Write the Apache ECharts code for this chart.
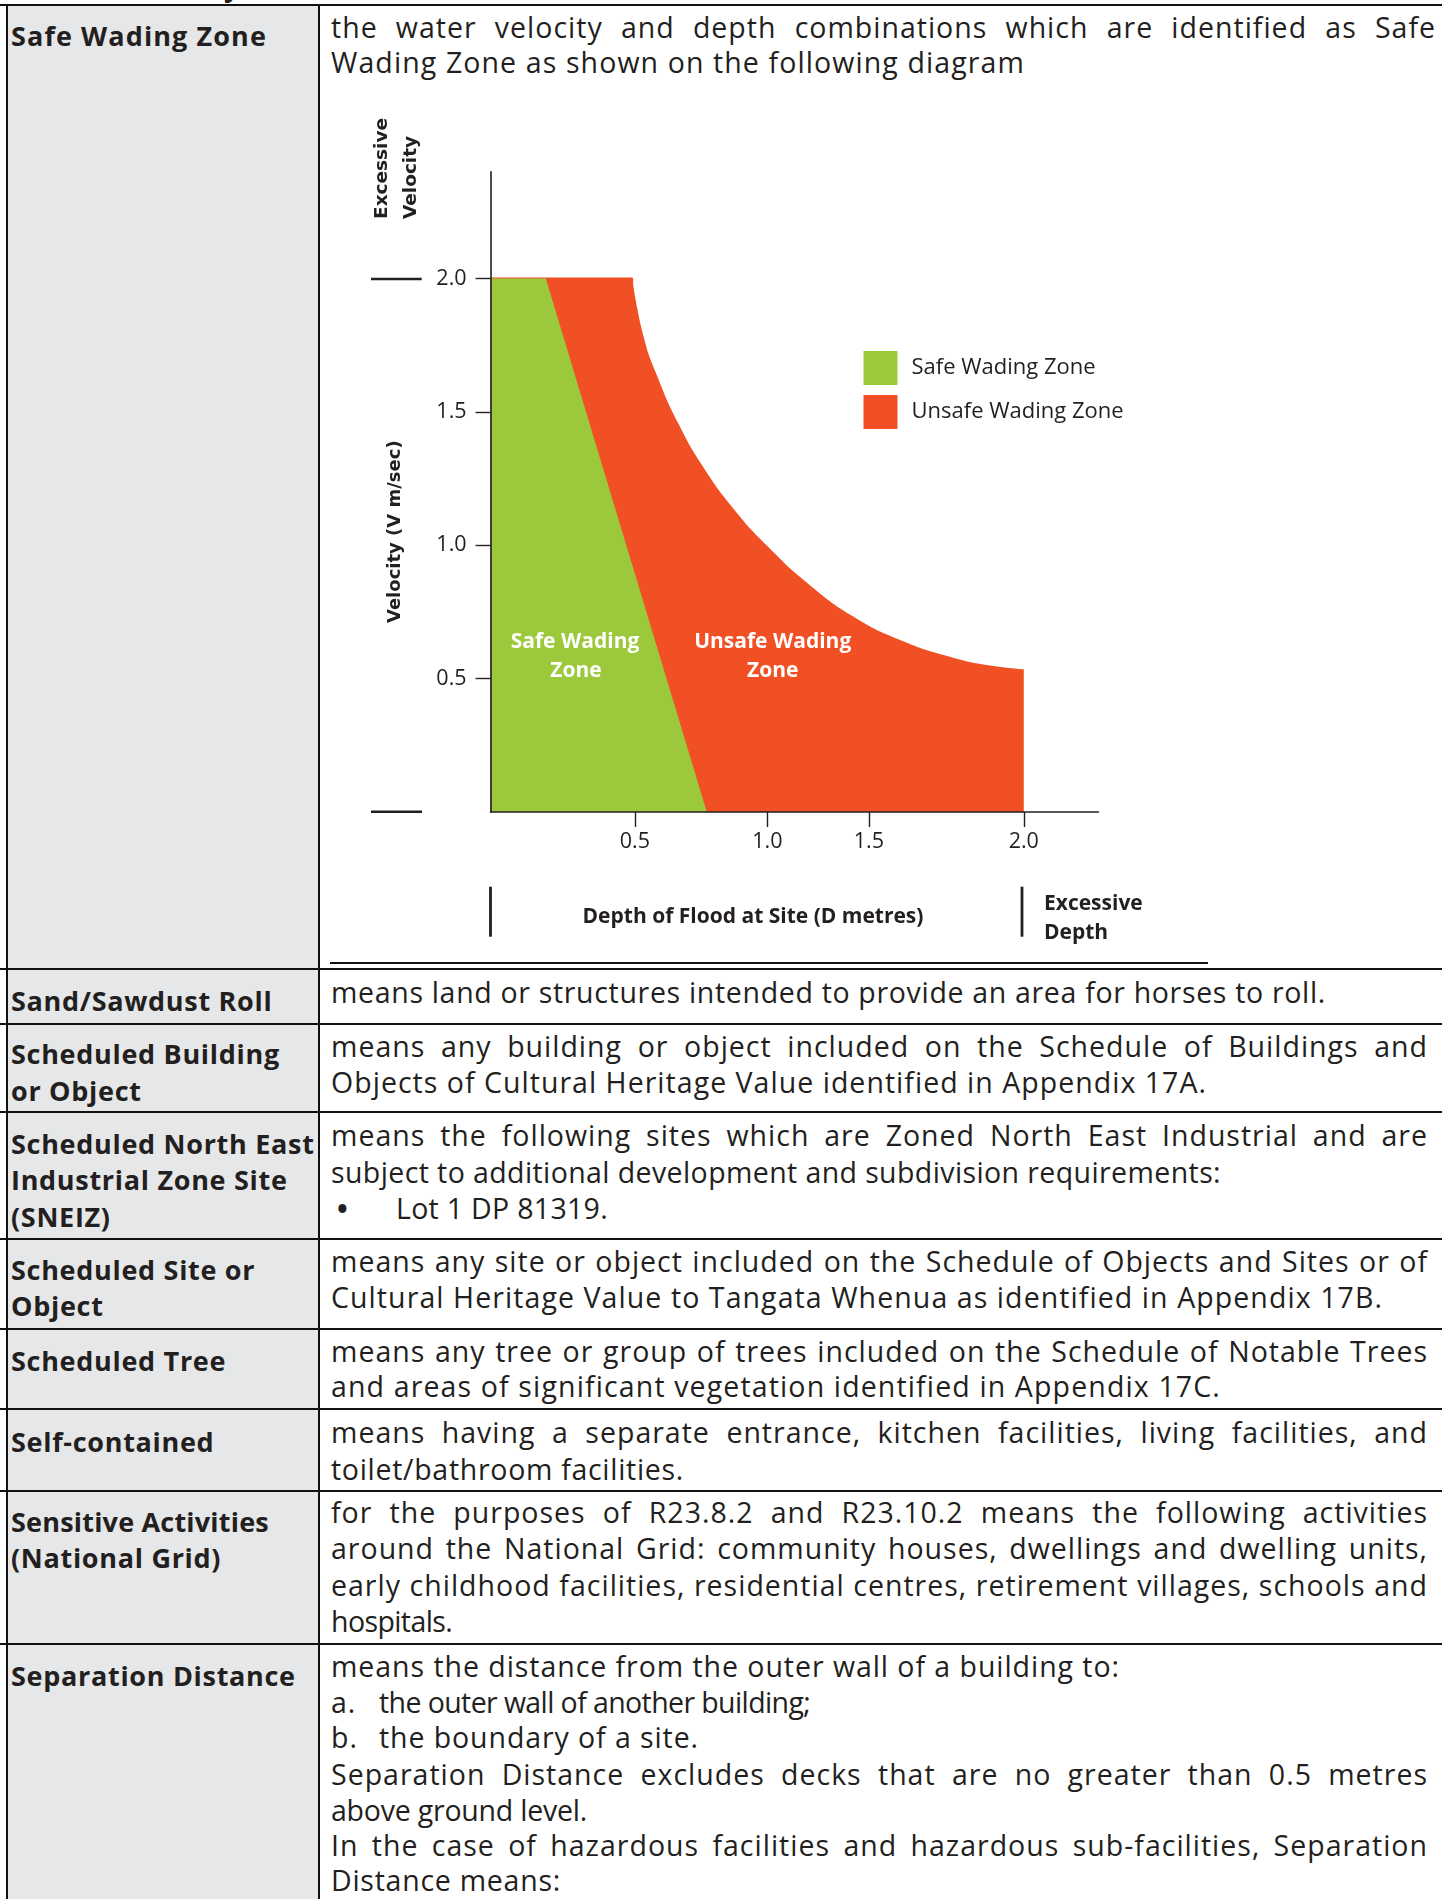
<!DOCTYPE html>
<html><head><meta charset="utf-8">
<script src="https://cdn.jsdelivr.net/npm/echarts@6/dist/echarts.min.js"></script>
<style>
html,body{margin:0;padding:0;background:#fff;}
body{width:1442px;height:1899px;position:relative;overflow:hidden;font-family:"Open Sans",sans-serif;color:#231f20;}
.hl{position:absolute;left:0;width:1442px;height:2.2px;background:#111;}
.vl{position:absolute;top:4px;width:2px;height:1895px;background:#111;}
.grey{position:absolute;left:8px;top:6px;width:310px;height:1893px;background:#e6e7e8;}
.t{position:absolute;left:331px;font-size:28.5px;letter-spacing:1.0px;line-height:36px;height:36px;white-space:nowrap;}
.lb{position:absolute;left:11px;font-weight:700;font-size:27px;letter-spacing:0.7px;line-height:36px;white-space:nowrap;}
#chart{position:absolute;left:330px;top:90px;width:900px;height:870px;}
</style>
</head><body>
<div class="grey"></div>
<div style="position:absolute;left:224px;top:0;width:30px;height:4px;overflow:hidden;"><div style="position:absolute;top:-31px;left:0;font-size:27px;line-height:36px;font-weight:700;">y</div></div>
<div class="hl" style="top:4px"></div>
<div class="vl" style="left:6px"></div>
<div class="vl" style="left:318px"></div>
<div class="hl" style="top:968px"></div>
<div class="hl" style="top:1022.5px"></div>
<div class="hl" style="top:1111px"></div>
<div class="hl" style="top:1238px"></div>
<div class="hl" style="top:1327.5px"></div>
<div class="hl" style="top:1407.5px"></div>
<div class="hl" style="top:1490px"></div>
<div class="hl" style="top:1642.5px"></div>
<div style="position:absolute;left:330px;top:961.5px;width:878px;height:2.5px;background:#111;"></div>

<!-- labels -->
<div class="lb" style="top:17.5px;letter-spacing:1.1px">Safe Wading Zone</div>
<div class="lb" style="top:983px">Sand/Sawdust Roll</div>
<div class="lb" style="top:1036px">Scheduled Building</div>
<div class="lb" style="top:1072.5px">or Object</div>
<div class="lb" style="top:1125.5px">Scheduled North East</div>
<div class="lb" style="top:1162px">Industrial Zone Site</div>
<div class="lb" style="top:1198.5px">(SNEIZ)</div>
<div class="lb" style="top:1251.5px">Scheduled Site or</div>
<div class="lb" style="top:1288px">Object</div>
<div class="lb" style="top:1342.5px">Scheduled Tree</div>
<div class="lb" style="top:1423.5px">Self-contained</div>
<div class="lb" style="top:1503.5px;letter-spacing:0.2px">Sensitive Activities</div>
<div class="lb" style="top:1540px">(National Grid)</div>
<div class="lb" style="top:1657.5px">Separation Distance</div>

<!-- definitions -->
<div class="t j" data-w="1105" style="top:9px">the water velocity and depth combinations which are identified as Safe</div>
<div class="t f" data-w="694" style="top:44px">Wading Zone as shown on the following diagram</div>

<div class="t f" data-w="995" style="top:974px">means land or structures intended to provide an area for horses to roll.</div>

<div class="t j" style="top:1027.5px">means any building or object included on the Schedule of Buildings and</div>
<div class="t f" data-w="876" style="top:1064px">Objects of Cultural Heritage Value identified in Appendix 17A.</div>

<div class="t j" style="top:1117px">means the following sites which are Zoned North East Industrial and are</div>
<div class="t f" data-w="890" style="top:1153.5px">subject to additional development and subdivision requirements:</div>
<div class="t" style="top:1190px;left:337px;font-weight:700">•</div>
<div class="t f" data-w="212" style="top:1190px;left:396px">Lot 1 DP 81319.</div>

<div class="t j" style="top:1243px">means any site or object included on the Schedule of Objects and Sites or of</div>
<div class="t f" data-w="1052" style="top:1278.5px">Cultural Heritage Value to Tangata Whenua as identified in Appendix 17B.</div>

<div class="t j" style="top:1333px">means any tree or group of trees included on the Schedule of Notable Trees</div>
<div class="t f" data-w="890" style="top:1368px">and areas of significant vegetation identified in Appendix 17C.</div>

<div class="t j" style="top:1414px">means having a separate entrance, kitchen facilities, living facilities, and</div>
<div class="t f" data-w="353" style="top:1450.5px">toilet/bathroom facilities.</div>

<div class="t j" style="top:1494px">for the purposes of R23.8.2 and R23.10.2 means the following activities</div>
<div class="t j" style="top:1530px">around the National Grid: community houses, dwellings and dwelling units,</div>
<div class="t j" style="top:1566.5px">early childhood facilities, residential centres, retirement villages, schools and</div>
<div class="t f" data-w="105" style="top:1603px">hospitals.</div>

<div class="t f" data-w="789" style="top:1647.5px">means the distance from the outer wall of a building to:</div>
<div class="t" style="top:1684px">a.</div>
<div class="t f" data-w="409" style="top:1684px;left:379px">the outer wall of another building;</div>
<div class="t" style="top:1719px">b.</div>
<div class="t f" data-w="320" style="top:1719px;left:379px">the boundary of a site.</div>
<div class="t j" style="top:1755.5px">Separation Distance excludes decks that are no greater than 0.5 metres</div>
<div class="t f" data-w="256" style="top:1792px">above ground level.</div>
<div class="t j" style="top:1827px">In the case of hazardous facilities and hazardous sub-facilities, Separation</div>
<div class="t f" data-w="230" style="top:1862px">Distance means:</div>

<div id="chart"></div>

<script>
// ---- chart data ----
const depthTickValues = [0.541, 1.038, 1.419, 2.0];
const depthTickLabels = ['0.5', '1.0', '1.5', '2.0'];
const velocityTickValues = [0.5, 1.0, 1.5, 2.0];
const seriesNames = ['Safe Wading Zone', 'Unsafe Wading Zone'];
// [depth, velocity]
const safeZone = [[0, 2.0], [0.207, 2.0], [0.811, 0]];
const unsafeFlat = [[0, 2.0], [0.531, 2.0], [0.531, 0]];
const unsafeCurve = [[0.531, 2.0], [0.574, 1.782], [0.626, 1.632], [0.704, 1.457], [0.797, 1.294],
  [0.915, 1.132], [1.040, 0.995], [1.190, 0.857], [1.362, 0.732], [1.536, 0.645], [1.723, 0.582],
  [1.861, 0.551], [2.0, 0.535]];

const GREEN = '#9cc93b', RED = '#f05024', DARK = '#231f20';

function layoutLines() {
  document.querySelectorAll('.t').forEach(el => {
    const W = parseFloat(el.dataset.w || 1097);
    const span = document.createElement('span');
    span.textContent = el.textContent;
    el.textContent = '';
    el.appendChild(span);
    const w = span.getBoundingClientRect().width;
    if (el.classList.contains('j')) {
      const n = (span.textContent.match(/ /g) || []).length;
      if (n) span.style.wordSpacing = ((W - w) / n) + 'px';
    } else if (el.classList.contains('f')) {
      const n = span.textContent.length;
      const ls = parseFloat(getComputedStyle(span).letterSpacing) || 0;
      let adj = ls + (W - w) / n;
      adj = Math.max(-0.6, Math.min(2.2, adj));
      span.style.letterSpacing = adj + 'px';
    }
  });
}

function drawChart() {
  const chart = echarts.init(document.getElementById('chart'), null, { renderer: 'canvas' });
  const txt = (x, y, text, font, align, rot) => ({
    type: 'text', x: x, y: y, rotation: rot || 0, silent: true,
    style: { text: text, font: font, fill: DARK, textAlign: align || 'center', textVerticalAlign: 'middle', align: align || 'center', verticalAlign: 'middle' }
  });
  const wtxt = (x, y, text) => ({
    type: 'text', x: x, y: y, silent: true, z: 10,
    style: { text: text, font: 'bold 21px "Open Sans"', fill: '#ffffff', textAlign: 'center', textVerticalAlign: 'middle', align: 'center', verticalAlign: 'middle' }
  });
  const ln = (x1, y1, x2, y2, w) => ({ type: 'line', silent: true, shape: { x1: x1, y1: y1, x2: x2, y2: y2 }, style: { stroke: DARK, lineWidth: w || 2.5 } });

  chart.setOption({
    animation: false,
    backgroundColor: 'transparent',
    grid: { left: 160.6, top: 81.8, right: 131.6, bottom: 148, containLabel: false },
    legend: {
      orient: 'vertical', left: 528.5, top: 256, icon: 'rect', itemWidth: 34, itemHeight: 34, itemGap: 10,
      selectedMode: false,
      textStyle: { fontFamily: 'Open Sans', fontSize: 22, color: DARK, padding: [0, 0, 0, 9] },
      data: [
        { name: seriesNames[0], itemStyle: { color: GREEN } },
        { name: seriesNames[1], itemStyle: { color: RED } }
      ]
    },
    xAxis: {
      type: 'value', min: 0, max: 2.28, z: 10,
      splitLine: { show: false },
      axisLine: { show: true, onZero: false, lineStyle: { color: DARK, width: 1.6 } },
      axisTick: { show: true, length: 15, customValues: depthTickValues, lineStyle: { color: DARK, width: 1.4 } },
      axisLabel: {
        show: true, customValues: depthTickValues, margin: 19,
        fontFamily: 'Open Sans', fontSize: 21.5, color: DARK,
        formatter: v => { const i = depthTickValues.indexOf(v); return i >= 0 ? depthTickLabels[i] : ''; }
      }
    },
    yAxis: {
      type: 'value', min: 0, max: 2.4, z: 10,
      splitLine: { show: false },
      axisLine: { show: true, onZero: false, lineStyle: { color: DARK, width: 1.6 } },
      axisTick: { show: true, length: 15, customValues: velocityTickValues, lineStyle: { color: DARK, width: 1.4 } },
      axisLabel: {
        show: true, customValues: velocityTickValues, margin: 24,
        fontFamily: 'Open Sans', fontSize: 21.5, color: DARK,
        formatter: v => v.toFixed(1)
      }
    },
    series: [
      {
        name: seriesNames[1], type: 'line', data: unsafeFlat, symbol: 'none', silent: true, z: 2,
        lineStyle: { width: 2, color: RED }, itemStyle: { color: RED },
        areaStyle: { color: RED, opacity: 1 }
      },
      {
        name: seriesNames[1], type: 'line', data: unsafeCurve, symbol: 'none', silent: true, z: 2,
        smooth: 0.5,
        lineStyle: { width: 0, color: RED }, itemStyle: { color: RED },
        areaStyle: { color: RED, opacity: 1 }
      },
      {
        name: seriesNames[0], type: 'line', data: safeZone, symbol: 'none', silent: true, z: 3,
        lineStyle: { width: 0, color: GREEN }, itemStyle: { color: GREEN },
        areaStyle: { color: GREEN, opacity: 1 }
      }
    ],
    graphic: [
      txt(52, 129, 'Excessive', 'bold 18.5px "DejaVu Sans"', 'left', Math.PI / 2),
      txt(81, 129, 'Velocity', 'bold 18.5px "DejaVu Sans"', 'left', Math.PI / 2),
      txt(65.6, 441.7, 'Velocity (V m/sec)', 'bold 18px "DejaVu Sans"', 'center', Math.PI / 2),
      ln(41, 189, 91.7, 189, 2.5),
      ln(41, 721.7, 92, 721.7, 2.5),
      wtxt(245, 551.9, 'Safe Wading'),
      wtxt(246, 580.9, 'Zone'),
      wtxt(442.7, 551.9, 'Unsafe Wading'),
      wtxt(442.7, 580.9, 'Zone'),
      txt(423, 827.5, 'Depth of Flood at Site (D metres)', 'bold 21px "Open Sans"', 'center'),
      ln(160.5, 796.7, 160.5, 846.7, 2.8),
      ln(692, 796.7, 692, 846.7, 2.8),
      txt(714, 814.3, 'Excessive', 'bold 21px "Open Sans"', 'left'),
      txt(714, 843.3, 'Depth', 'bold 21px "Open Sans"', 'left')
    ]
  });
}

function start() { layoutLines(); drawChart(); }
if (document.fonts && document.fonts.ready) { document.fonts.ready.then(start); } else { window.addEventListener('load', start); }
</script>
</body></html>
